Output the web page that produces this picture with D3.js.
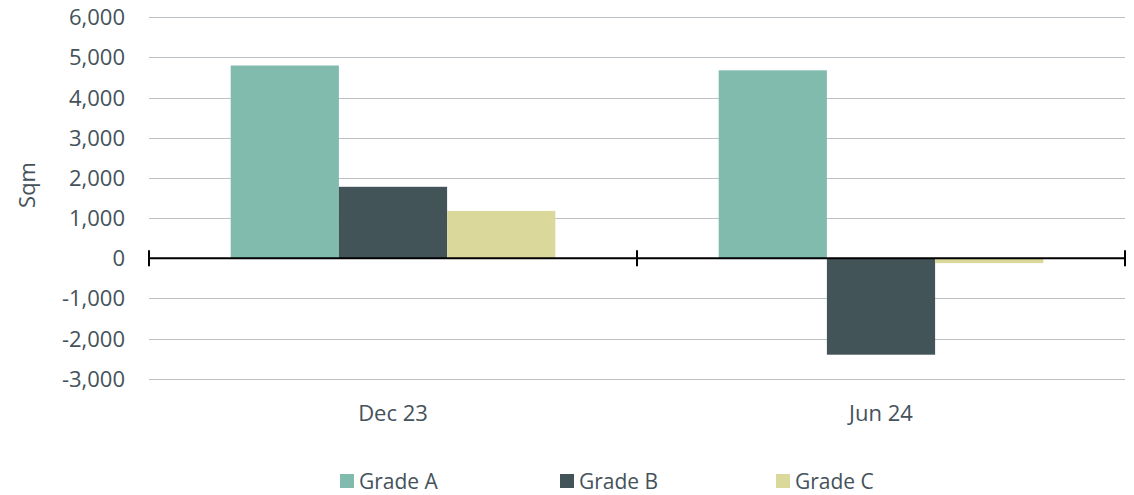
<!DOCTYPE html>
<html><head><meta charset="utf-8">
<script src="https://cdn.jsdelivr.net/npm/d3@7"></script>
<style>body{margin:0;background:#fff;} text{font-family:"Open Sans",sans-serif;}</style>
</head><body><svg id="c" width="1134" height="495"></svg>
<script>
const categories = ["Dec 23", "Jun 24"];
const seriesNames = ["Grade A", "Grade B", "Grade C"];
const gradeA = [4800, 4680];
const gradeB = [1780, -2400];
const gradeC = [1180, -120];
const yTicks = [-3000, -2000, -1000, 0, 1000, 2000, 3000, 4000, 5000, 6000];
const colors = ["#80bbad", "#435459", "#dbd89c"];

const values = [gradeA, gradeB, gradeC];
const svg = d3.select("#c");
const textColor = "#44525a";
const left = 149, right = 1125;
const y = d3.scaleLinear().domain([-3000, 6000]).range([378.8, 17.3]);
const x = d3.scaleBand().domain(categories).range([left, right]).padding(0);
const xs = d3.scaleBand().domain(seriesNames).range([0, x.bandwidth()]).paddingInner(0).paddingOuter(0.755);
const fmt = d => d3.format(",")(d).replace("\u2212", "-");

// gridlines
svg.append("g").selectAll("line").data(yTicks.filter(t => t !== 0)).join("line")
  .attr("x1", left).attr("x2", right)
  .attr("y1", d => Math.round(y(d)) + 0.5).attr("y2", d => Math.round(y(d)) + 0.5)
  .attr("stroke", "#bcc1c5").attr("stroke-width", 1.2);

// y labels
svg.append("g").selectAll("text").data(yTicks).join("text")
  .attr("x", 125).attr("y", d => y(d)).attr("dy", "0.36em")
  .attr("text-anchor", "end").attr("font-size", 22).attr("fill", textColor)
  .text(fmt);

// bars
const data = [];
categories.forEach((c, i) => seriesNames.forEach((s, j) => data.push({c, s, v: values[j][i], col: colors[j]})));
svg.append("g").selectAll("rect").data(data).join("rect")
  .attr("x", d => x(d.c) + xs(d.s)).attr("width", xs.bandwidth())
  .attr("y", d => y(Math.max(0, d.v))).attr("height", d => Math.abs(y(d.v) - y(0)))
  .attr("fill", d => d.col);

// zero axis
const y0 = y(0);
svg.append("line").attr("x1", left).attr("x2", right).attr("y1", y0).attr("y2", y0)
  .attr("stroke", "#000").attr("stroke-width", 2);
const tickXs = categories.map(c => x(c)).concat([right]);
svg.append("g").selectAll("line").data(tickXs).join("line")
  .attr("x1", d => d).attr("x2", d => d).attr("y1", y0 - 8).attr("y2", y0 + 8)
  .attr("stroke", "#000").attr("stroke-width", 2);

// category labels
svg.append("g").selectAll("text").data(categories).join("text")
  .attr("x", d => x(d) + x.bandwidth() / 2).attr("y", 413).attr("dy", "0.36em")
  .attr("text-anchor", "middle").attr("font-size", 22).attr("fill", textColor).text(d => d);

// y title
svg.append("text").attr("transform", "translate(35,185) rotate(-90)")
  .attr("text-anchor", "middle").attr("font-size", 22).attr("fill", textColor).text("Sqm");

// legend
const legX = [340, 560, 776];
const leg = svg.append("g").selectAll("g").data(seriesNames).join("g")
  .attr("transform", (d, i) => `translate(${legX[i]},481)`);
leg.append("rect").attr("x", 0).attr("y", -7).attr("width", 14).attr("height", 14)
  .attr("fill", (d, i) => colors[i]);
leg.append("text").attr("x", 19).attr("y", 0).attr("dy", "0.36em")
  .attr("font-size", 21).attr("fill", textColor).text(d => d);
</script></body></html>
